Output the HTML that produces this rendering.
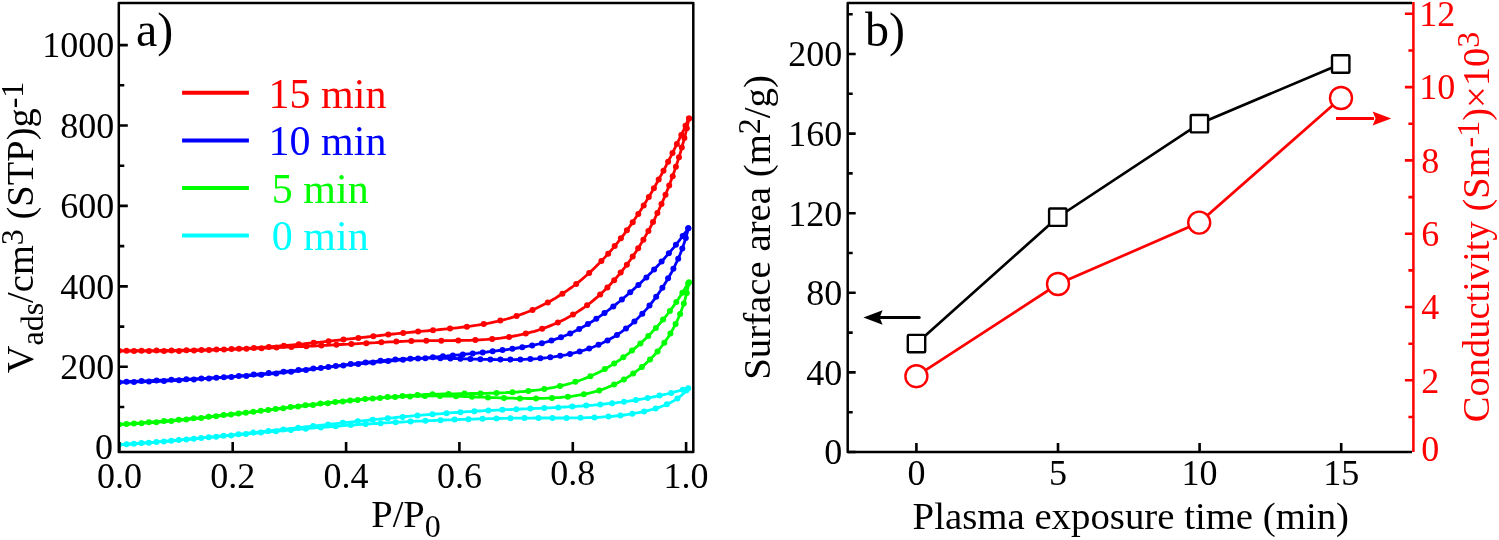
<!DOCTYPE html>
<html><head><meta charset="utf-8"><style>
html,body{margin:0;padding:0;background:#fff;}
svg{display:block;font-family:"Liberation Serif",serif;will-change:transform;}
</style></head><body>
<svg width="1499" height="540" viewBox="0 0 1499 540">
<rect width="1499" height="540" fill="#fff"/>
<defs><clipPath id="ca"><rect x="119" y="3" width="574" height="449"/></clipPath></defs>
<g clip-path="url(#ca)">
<path d="M119.0,444.8 L121.9,444.6 L124.7,444.4 L127.6,444.2 L130.5,444.0 L133.3,443.8 L136.2,443.6 L139.0,443.4 L141.9,443.2 L144.8,443.0 L147.6,442.8 L150.5,442.5 L153.3,442.3 L156.2,442.1 L159.1,441.8 L161.9,441.6 L164.8,441.4 L167.6,441.1 L170.5,440.9 L173.3,440.6 L176.2,440.4 L179.1,440.1 L181.9,439.8 L184.8,439.6 L187.6,439.3 L190.5,439.0 L193.3,438.8 L196.2,438.5 L199.0,438.2 L201.9,437.9 L204.8,437.7 L207.6,437.4 L210.5,437.1 L213.3,436.8 L216.2,436.5 L219.0,436.2 L221.9,435.9 L224.7,435.6 L227.6,435.4 L230.4,435.1 L233.3,434.8 L236.1,434.5 L239.0,434.2 L241.8,433.9 L244.7,433.6 L247.5,433.2 L250.4,432.9 L253.2,432.6 L256.1,432.3 L258.9,432.0 L261.8,431.7 L264.6,431.4 L267.5,431.1 L270.3,430.8 L273.2,430.5 L276.0,430.2 L278.9,429.8 L281.7,429.5 L284.6,429.2 L287.4,428.9 L290.3,428.6 L293.1,428.3 L296.0,428.0 L298.8,427.6 L301.7,427.3 L304.5,427.0 L307.4,426.7 L310.2,426.4 L313.1,426.1 L315.9,425.8 L318.8,425.4 L321.6,425.1 L324.5,424.8 L327.3,424.5 L330.2,424.2 L333.0,423.9 L335.9,423.6 L338.7,423.3 L341.6,423.0 L344.4,422.7 L347.3,422.4 L350.1,422.1 L353.0,421.8 L355.8,421.5 L358.7,421.2 L361.5,420.9 L364.4,420.6 L367.2,420.3 L370.1,420.0 L372.9,419.7 L375.8,419.4 L378.7,419.2 L381.5,418.9 L384.4,418.6 L387.2,418.3 L390.1,418.0 L392.9,417.8 L395.8,417.5 L398.6,417.2 L401.5,417.0 L404.3,416.7 L407.2,416.4 L410.0,416.2 L412.9,415.9 L415.8,415.7 L418.6,415.4 L421.5,415.2 L424.3,414.9 L427.2,414.7 L430.0,414.5 L432.9,414.2 L435.8,414.0 L438.6,413.8 L441.5,413.6 L444.3,413.3 L447.2,413.1 L450.1,412.9 L452.9,412.7 L455.8,412.5 L458.6,412.3 L461.5,412.1 L464.4,411.9 L467.2,411.7 L470.1,411.6 L473.0,411.4 L475.8,411.2 L478.7,411.0 L481.5,410.9 L484.4,410.7 L487.3,410.6 L490.1,410.4 L493.0,410.3 L495.9,410.1 L498.7,410.0 L501.6,409.8 L504.5,409.7 L507.3,409.6 L510.2,409.5 L513.1,409.3 L516.0,409.2 L518.8,409.1 L521.7,409.0 L524.6,408.9 L527.4,408.8 L530.3,408.6 L533.2,408.5 L536.0,408.4 L538.9,408.3 L541.8,408.1 L544.6,408.0 L547.5,407.9 L550.4,407.8 L553.2,407.6 L556.1,407.5 L559.0,407.3 L561.8,407.2 L564.7,407.0 L567.6,406.9 L570.4,406.7 L573.3,406.5 L576.1,406.3 L579.0,406.1 L581.8,406.0 L584.7,405.7 L587.6,405.5 L590.4,405.3 L593.3,405.1 L596.1,404.8 L598.9,404.6 L601.8,404.3 L604.6,404.0 L607.5,403.7 L610.3,403.4 L613.2,403.1 L616.0,402.8 L618.8,402.4 L621.7,402.1 L624.5,401.7 L627.3,401.3 L630.1,400.9 L633.0,400.5 L635.8,400.0 L638.6,399.6 L641.4,399.1 L644.2,398.6 L647.1,398.1 L649.9,397.6 L652.7,397.0 L655.5,396.5 L658.3,395.9 L661.1,395.3 L663.9,394.6 L666.7,394.0 L669.5,393.3 L672.2,392.6 L675.0,391.9 L677.8,391.2 L680.6,390.4 L683.4,389.6 L686.1,388.8" fill="none" stroke="#00FFFF" stroke-width="2.8" stroke-linejoin="round" stroke-linecap="round"/>
<g fill="#00FFFF"><circle cx="119.0" cy="444.8" r="3.0"/><circle cx="134.0" cy="443.8" r="3.0"/><circle cx="148.9" cy="442.7" r="3.0"/><circle cx="163.9" cy="441.4" r="3.0"/><circle cx="178.8" cy="440.1" r="3.0"/><circle cx="193.8" cy="438.7" r="3.0"/><circle cx="208.7" cy="437.3" r="3.0"/><circle cx="223.6" cy="435.8" r="3.0"/><circle cx="238.5" cy="434.2" r="3.0"/><circle cx="253.4" cy="432.6" r="3.0"/><circle cx="268.4" cy="431.0" r="3.0"/><circle cx="283.3" cy="429.4" r="3.0"/><circle cx="298.2" cy="427.7" r="3.0"/><circle cx="313.1" cy="426.1" r="3.0"/><circle cx="328.0" cy="424.4" r="3.0"/><circle cx="342.9" cy="422.8" r="3.0"/><circle cx="357.8" cy="421.3" r="3.0"/><circle cx="372.7" cy="419.7" r="3.0"/><circle cx="387.7" cy="418.3" r="3.0"/><circle cx="402.6" cy="416.9" r="3.0"/><circle cx="417.5" cy="415.5" r="3.0"/><circle cx="432.5" cy="414.3" r="3.0"/><circle cx="446.5" cy="413.2" r="3.0"/><circle cx="460.4" cy="412.2" r="3.0"/><circle cx="474.4" cy="411.3" r="3.0"/><circle cx="488.4" cy="410.5" r="3.0"/><circle cx="502.3" cy="409.8" r="3.0"/><circle cx="516.3" cy="409.2" r="3.0"/><circle cx="530.3" cy="408.6" r="3.0"/><circle cx="544.3" cy="408.0" r="3.0"/><circle cx="558.3" cy="407.4" r="3.0"/><circle cx="572.3" cy="406.6" r="3.0"/><circle cx="586.2" cy="405.6" r="3.0"/><circle cx="600.2" cy="404.4" r="3.0"/><circle cx="612.1" cy="403.2" r="3.0"/><circle cx="624.0" cy="401.7" r="3.0"/><circle cx="635.9" cy="400.0" r="3.0"/><circle cx="647.7" cy="398.0" r="3.0"/><circle cx="659.5" cy="395.6" r="3.0"/><circle cx="671.2" cy="392.9" r="3.0"/><circle cx="682.8" cy="389.8" r="3.0"/><circle cx="688.2" cy="388.2" r="3.0"/></g>
<path d="M119.0,444.8 L121.9,444.6 L124.8,444.4 L127.6,444.2 L130.5,444.0 L133.4,443.7 L136.3,443.5 L139.2,443.3 L142.0,443.1 L144.9,442.9 L147.8,442.6 L150.7,442.4 L153.6,442.2 L156.4,441.9 L159.3,441.7 L162.2,441.5 L165.1,441.2 L168.0,441.0 L170.8,440.7 L173.7,440.5 L176.6,440.2 L179.5,440.0 L182.4,439.7 L185.3,439.5 L188.1,439.2 L191.0,439.0 L193.9,438.7 L196.8,438.5 L199.7,438.2 L202.5,437.9 L205.4,437.7 L208.3,437.4 L211.2,437.2 L214.1,436.9 L217.0,436.6 L219.8,436.4 L222.7,436.1 L225.6,435.9 L228.5,435.6 L231.4,435.3 L234.3,435.1 L237.1,434.8 L240.0,434.5 L242.9,434.3 L245.8,434.0 L248.7,433.7 L251.6,433.5 L254.4,433.2 L257.3,433.0 L260.2,432.7 L263.1,432.4 L266.0,432.2 L268.9,431.9 L271.7,431.7 L274.6,431.4 L277.5,431.1 L280.4,430.9 L283.3,430.6 L286.2,430.4 L289.0,430.1 L291.9,429.9 L294.8,429.6 L297.7,429.4 L300.6,429.1 L303.5,428.9 L306.4,428.6 L309.2,428.4 L312.1,428.2 L315.0,427.9 L317.9,427.7 L320.8,427.4 L323.7,427.2 L326.5,427.0 L329.4,426.8 L332.3,426.5 L335.2,426.3 L338.1,426.1 L341.0,425.9 L343.8,425.6 L346.7,425.4 L349.6,425.2 L352.5,425.0 L355.4,424.8 L358.3,424.6 L361.1,424.4 L364.0,424.2 L366.9,424.0 L369.8,423.8 L372.7,423.7 L375.6,423.5 L378.4,423.3 L381.3,423.1 L384.2,422.9 L387.1,422.8 L390.0,422.6 L392.8,422.4 L395.7,422.3 L398.6,422.1 L401.5,422.0 L404.4,421.8 L407.3,421.7 L410.1,421.5 L413.0,421.4 L415.9,421.2 L418.8,421.1 L421.7,421.0 L424.6,420.8 L427.5,420.7 L430.3,420.6 L433.2,420.5 L436.1,420.3 L439.0,420.2 L441.9,420.1 L444.8,420.0 L447.7,419.9 L450.5,419.8 L453.4,419.7 L456.3,419.6 L459.2,419.5 L462.1,419.4 L465.0,419.3 L467.9,419.2 L470.8,419.1 L473.6,419.1 L476.5,419.0 L479.4,418.9 L482.3,418.8 L485.2,418.8 L488.1,418.7 L491.0,418.6 L493.9,418.6 L496.8,418.5 L499.7,418.5 L502.6,418.4 L505.5,418.4 L508.4,418.3 L511.3,418.3 L514.1,418.2 L517.0,418.2 L519.9,418.2 L522.8,418.1 L525.7,418.1 L528.6,418.1 L531.5,418.1 L534.4,418.0 L537.3,418.0 L540.2,418.0 L543.1,418.0 L546.1,418.0 L549.0,418.0 L551.9,418.0 L554.8,418.0 L557.7,418.0 L560.6,418.0 L563.5,418.0 L566.4,418.0 L569.3,417.9 L572.2,417.9 L575.1,417.9 L578.0,417.9 L580.9,417.8 L583.8,417.8 L586.7,417.7 L589.6,417.6 L592.5,417.5 L595.4,417.4 L598.3,417.3 L601.2,417.1 L604.1,416.9 L606.9,416.7 L609.8,416.5 L612.7,416.3 L615.5,416.0 L618.4,415.7 L621.3,415.4 L624.1,415.0 L627.0,414.6 L629.8,414.2 L632.6,413.7 L635.5,413.2 L638.3,412.7 L641.1,412.1 L643.9,411.5 L646.7,410.8 L649.5,410.1 L652.3,409.4 L655.1,408.6 L657.9,407.7 L660.6,406.8 L663.3,405.8 L666.0,404.7 L668.6,403.5 L671.1,402.3 L673.6,400.9 L676.0,399.4 L678.3,397.8 L680.6,396.0 L682.8,394.2 L684.8,392.1 L686.8,389.9" fill="none" stroke="#00FFFF" stroke-width="2.8" stroke-linejoin="round" stroke-linecap="round"/>
<g fill="#00FFFF"><circle cx="126.5" cy="444.3" r="3.0"/><circle cx="141.4" cy="443.1" r="3.0"/><circle cx="156.4" cy="441.9" r="3.0"/><circle cx="171.3" cy="440.7" r="3.0"/><circle cx="186.3" cy="439.4" r="3.0"/><circle cx="201.2" cy="438.1" r="3.0"/><circle cx="216.2" cy="436.7" r="3.0"/><circle cx="231.1" cy="435.4" r="3.0"/><circle cx="246.0" cy="434.0" r="3.0"/><circle cx="261.0" cy="432.6" r="3.0"/><circle cx="275.9" cy="431.3" r="3.0"/><circle cx="290.9" cy="430.0" r="3.0"/><circle cx="305.8" cy="428.7" r="3.0"/><circle cx="320.8" cy="427.4" r="3.0"/><circle cx="335.7" cy="426.3" r="3.0"/><circle cx="350.7" cy="425.1" r="3.0"/><circle cx="365.6" cy="424.1" r="3.0"/><circle cx="380.6" cy="423.2" r="3.0"/><circle cx="395.6" cy="422.3" r="3.0"/><circle cx="410.6" cy="421.5" r="3.0"/><circle cx="425.5" cy="420.8" r="3.0"/><circle cx="440.5" cy="420.2" r="3.0"/><circle cx="454.5" cy="419.6" r="3.0"/><circle cx="468.5" cy="419.2" r="3.0"/><circle cx="482.5" cy="418.8" r="3.0"/><circle cx="496.5" cy="418.5" r="3.0"/><circle cx="510.5" cy="418.3" r="3.0"/><circle cx="524.5" cy="418.1" r="3.0"/><circle cx="538.5" cy="418.0" r="3.0"/><circle cx="552.5" cy="418.0" r="3.0"/><circle cx="566.5" cy="418.0" r="3.0"/><circle cx="580.5" cy="417.8" r="3.0"/><circle cx="594.5" cy="417.4" r="3.0"/><circle cx="608.5" cy="416.6" r="3.0"/><circle cx="620.4" cy="415.5" r="3.0"/><circle cx="632.3" cy="413.8" r="3.0"/><circle cx="644.1" cy="411.5" r="3.0"/><circle cx="655.7" cy="408.4" r="3.0"/><circle cx="666.9" cy="404.3" r="3.0"/><circle cx="677.4" cy="398.5" r="3.0"/><circle cx="686.3" cy="390.5" r="3.0"/></g>
<path d="M119.0,424.4 L122.0,424.2 L125.1,424.0 L128.1,423.8 L131.2,423.6 L134.2,423.4 L137.3,423.2 L140.3,423.0 L143.4,422.7 L146.4,422.5 L149.5,422.3 L152.6,422.0 L155.6,421.8 L158.7,421.5 L161.7,421.3 L164.8,421.0 L167.9,420.7 L170.9,420.4 L174.0,420.2 L177.0,419.9 L180.1,419.6 L183.2,419.3 L186.2,419.0 L189.3,418.7 L192.4,418.4 L195.4,418.1 L198.5,417.8 L201.6,417.5 L204.6,417.2 L207.7,416.8 L210.8,416.5 L213.9,416.2 L216.9,415.9 L220.0,415.5 L223.1,415.2 L226.1,414.9 L229.2,414.5 L232.3,414.2 L235.3,413.8 L238.4,413.5 L241.5,413.1 L244.6,412.8 L247.6,412.4 L250.7,412.1 L253.8,411.7 L256.8,411.4 L259.9,411.0 L263.0,410.7 L266.0,410.3 L269.1,410.0 L272.2,409.6 L275.2,409.3 L278.3,408.9 L281.3,408.5 L284.4,408.2 L287.5,407.8 L290.5,407.5 L293.6,407.1 L296.6,406.8 L299.7,406.4 L302.7,406.1 L305.8,405.7 L308.8,405.4 L311.9,405.0 L314.9,404.7 L318.0,404.3 L321.0,404.0 L324.1,403.6 L327.1,403.3 L330.2,402.9 L333.2,402.6 L336.2,402.3 L339.3,401.9 L342.3,401.6 L345.3,401.3 L348.4,400.9 L351.4,400.6 L354.4,400.3 L357.5,400.0 L360.5,399.7 L363.5,399.4 L366.5,399.1 L369.6,398.8 L372.6,398.5 L375.6,398.2 L378.7,397.9 L381.7,397.6 L384.7,397.4 L387.8,397.1 L390.8,396.9 L393.8,396.6 L396.9,396.4 L399.9,396.2 L403.0,395.9 L406.0,395.7 L409.1,395.5 L412.1,395.3 L415.2,395.2 L418.2,395.0 L421.3,394.8 L424.4,394.7 L427.4,394.5 L430.5,394.4 L433.6,394.3 L436.7,394.2 L439.8,394.1 L442.9,394.0 L446.0,393.9 L449.1,393.9 L452.2,393.8 L455.3,393.8 L458.5,393.7 L461.6,393.7 L464.7,393.6 L467.8,393.6 L471.0,393.5 L474.1,393.5 L477.2,393.5 L480.3,393.4 L483.5,393.4 L486.6,393.3 L489.7,393.2 L492.8,393.1 L496.0,393.1 L499.1,392.9 L502.2,392.8 L505.3,392.7 L508.4,392.5 L511.5,392.4 L514.6,392.2 L517.7,392.0 L520.7,391.7 L523.8,391.5 L526.9,391.2 L529.9,390.9 L533.0,390.5 L536.0,390.2 L539.1,389.8 L542.1,389.3 L545.1,388.9 L548.1,388.4 L551.1,387.8 L554.0,387.3 L557.0,386.7 L560.0,386.0 L562.9,385.3 L565.8,384.6 L568.7,383.8 L571.6,383.0 L574.5,382.1 L577.4,381.2 L580.2,380.2 L583.0,379.2 L585.8,378.1 L588.6,377.0 L591.4,375.8 L594.2,374.5 L596.9,373.2 L599.6,371.9 L602.3,370.5 L605.0,369.0 L607.7,367.5 L610.3,365.9 L612.9,364.3 L615.5,362.7 L618.1,361.0 L620.6,359.3 L623.1,357.5 L625.6,355.6 L628.1,353.8 L630.5,351.9 L632.9,349.9 L635.3,347.9 L637.7,345.9 L640.0,343.8 L642.3,341.7 L644.6,339.6 L646.8,337.4 L649.0,335.2 L651.2,333.0 L653.3,330.8 L655.4,328.5 L657.5,326.2 L659.5,323.8 L661.5,321.5 L663.5,319.1 L665.5,316.7 L667.4,314.3 L669.2,311.8 L671.1,309.3 L672.9,306.9 L674.7,304.4 L676.4,301.8 L678.2,299.3 L679.8,296.8 L681.5,294.2 L683.1,291.7 L684.7,289.1 L686.3,286.5 L687.9,283.9" fill="none" stroke="#00FF00" stroke-width="2.8" stroke-linejoin="round" stroke-linecap="round"/>
<g fill="#00FF00"><circle cx="119.0" cy="424.4" r="3.0"/><circle cx="134.0" cy="423.4" r="3.0"/><circle cx="148.9" cy="422.3" r="3.0"/><circle cx="163.9" cy="421.1" r="3.0"/><circle cx="178.8" cy="419.7" r="3.0"/><circle cx="193.7" cy="418.3" r="3.0"/><circle cx="208.7" cy="416.7" r="3.0"/><circle cx="223.6" cy="415.1" r="3.0"/><circle cx="238.5" cy="413.5" r="3.0"/><circle cx="253.4" cy="411.8" r="3.0"/><circle cx="268.3" cy="410.1" r="3.0"/><circle cx="283.2" cy="408.3" r="3.0"/><circle cx="298.1" cy="406.6" r="3.0"/><circle cx="313.0" cy="404.9" r="3.0"/><circle cx="327.9" cy="403.2" r="3.0"/><circle cx="342.8" cy="401.5" r="3.0"/><circle cx="357.7" cy="400.0" r="3.0"/><circle cx="372.7" cy="398.5" r="3.0"/><circle cx="387.6" cy="397.1" r="3.0"/><circle cx="402.5" cy="396.0" r="3.0"/><circle cx="417.5" cy="395.0" r="3.0"/><circle cx="432.5" cy="394.3" r="3.0"/><circle cx="448.5" cy="393.9" r="3.0"/><circle cx="464.5" cy="393.6" r="3.0"/><circle cx="480.5" cy="393.4" r="3.0"/><circle cx="496.5" cy="393.0" r="3.0"/><circle cx="512.5" cy="392.3" r="3.0"/><circle cx="528.4" cy="391.0" r="3.0"/><circle cx="544.3" cy="389.0" r="3.0"/><circle cx="560.0" cy="386.0" r="3.0"/><circle cx="575.4" cy="381.8" r="3.0"/><circle cx="590.4" cy="376.2" r="3.0"/><circle cx="604.8" cy="369.1" r="3.0"/><circle cx="614.2" cy="363.5" r="3.0"/><circle cx="623.3" cy="357.3" r="3.0"/><circle cx="632.0" cy="350.6" r="3.0"/><circle cx="640.4" cy="343.5" r="3.0"/><circle cx="648.3" cy="335.9" r="3.0"/><circle cx="655.9" cy="327.9" r="3.0"/><circle cx="663.1" cy="319.6" r="3.0"/><circle cx="669.9" cy="310.9" r="3.0"/><circle cx="676.3" cy="302.0" r="3.0"/><circle cx="682.4" cy="292.8" r="3.0"/><circle cx="688.1" cy="283.5" r="3.0"/></g>
<path d="M119.0,424.4 L122.1,424.3 L125.3,424.1 L128.4,424.0 L131.6,423.9 L134.7,423.7 L137.9,423.5 L141.0,423.3 L144.1,423.1 L147.3,422.9 L150.4,422.7 L153.6,422.5 L156.7,422.2 L159.9,422.0 L163.0,421.7 L166.2,421.5 L169.3,421.2 L172.4,420.9 L175.6,420.6 L178.7,420.3 L181.9,420.0 L185.0,419.7 L188.2,419.4 L191.3,419.1 L194.4,418.7 L197.6,418.4 L200.7,418.1 L203.9,417.7 L207.0,417.4 L210.2,417.0 L213.3,416.6 L216.4,416.3 L219.6,415.9 L222.7,415.5 L225.9,415.2 L229.0,414.8 L232.2,414.4 L235.3,414.0 L238.4,413.6 L241.6,413.2 L244.7,412.8 L247.9,412.4 L251.0,412.0 L254.2,411.7 L257.3,411.3 L260.5,410.9 L263.6,410.5 L266.7,410.1 L269.9,409.7 L273.0,409.3 L276.2,408.9 L279.3,408.5 L282.5,408.1 L285.6,407.7 L288.7,407.3 L291.9,406.9 L295.0,406.5 L298.2,406.1 L301.3,405.7 L304.5,405.4 L307.6,405.0 L310.7,404.6 L313.9,404.3 L317.0,403.9 L320.2,403.5 L323.3,403.2 L326.5,402.8 L329.6,402.5 L332.7,402.1 L335.9,401.8 L339.0,401.5 L342.2,401.2 L345.3,400.9 L348.5,400.6 L351.6,400.3 L354.7,400.0 L357.9,399.7 L361.0,399.4 L364.2,399.1 L367.3,398.9 L370.5,398.6 L373.6,398.4 L376.7,398.2 L379.9,397.9 L383.0,397.7 L386.2,397.5 L389.3,397.3 L392.4,397.2 L395.6,397.0 L398.7,396.8 L401.9,396.7 L405.0,396.6 L408.2,396.4 L411.3,396.3 L414.4,396.2 L417.6,396.1 L420.7,396.1 L423.9,396.0 L427.0,396.0 L430.2,395.9 L433.3,395.9 L436.4,395.9 L439.6,395.9 L442.7,396.0 L445.9,396.0 L449.0,396.1 L452.2,396.1 L455.3,396.2 L458.4,396.3 L461.6,396.4 L464.7,396.5 L467.9,396.6 L471.0,396.7 L474.2,396.8 L477.3,397.0 L480.5,397.1 L483.6,397.2 L486.8,397.3 L490.0,397.5 L493.1,397.6 L496.3,397.7 L499.5,397.8 L502.6,397.9 L505.8,398.0 L509.0,398.1 L512.2,398.2 L515.3,398.3 L518.5,398.3 L521.7,398.4 L524.9,398.4 L528.1,398.5 L531.3,398.5 L534.5,398.5 L537.7,398.4 L540.9,398.4 L544.1,398.3 L547.3,398.2 L550.5,398.1 L553.7,397.9 L556.9,397.7 L560.1,397.5 L563.3,397.2 L566.5,396.9 L569.6,396.6 L572.7,396.2 L575.9,395.7 L579.0,395.2 L582.1,394.7 L585.2,394.1 L588.2,393.4 L591.3,392.7 L594.3,391.9 L597.3,391.0 L600.2,390.1 L603.2,389.1 L606.1,388.0 L609.0,386.8 L611.9,385.6 L614.7,384.3 L617.5,383.0 L620.2,381.5 L623.0,380.0 L625.7,378.4 L628.3,376.8 L630.9,375.1 L633.5,373.3 L636.0,371.5 L638.5,369.6 L641.0,367.6 L643.4,365.6 L645.7,363.6 L648.0,361.4 L650.3,359.2 L652.5,357.0 L654.6,354.7 L656.7,352.4 L658.8,350.0 L660.7,347.5 L662.7,345.0 L664.5,342.5 L666.3,339.9 L668.1,337.3 L669.8,334.6 L671.4,331.9 L672.9,329.1 L674.4,326.3 L675.9,323.5 L677.2,320.6 L678.5,317.7 L679.8,314.8 L680.9,311.8 L682.0,308.8 L683.1,305.8 L684.1,302.8 L685.0,299.7 L685.8,296.7 L686.6,293.6 L687.3,290.5 L688.0,287.4 L688.6,284.3" fill="none" stroke="#00FF00" stroke-width="2.8" stroke-linejoin="round" stroke-linecap="round"/>
<g fill="#00FF00"><circle cx="126.5" cy="424.1" r="3.0"/><circle cx="141.5" cy="423.3" r="3.0"/><circle cx="156.4" cy="422.3" r="3.0"/><circle cx="171.4" cy="421.0" r="3.0"/><circle cx="186.3" cy="419.6" r="3.0"/><circle cx="201.2" cy="418.0" r="3.0"/><circle cx="216.1" cy="416.3" r="3.0"/><circle cx="231.0" cy="414.5" r="3.0"/><circle cx="245.9" cy="412.7" r="3.0"/><circle cx="260.8" cy="410.8" r="3.0"/><circle cx="275.7" cy="408.9" r="3.0"/><circle cx="290.6" cy="407.1" r="3.0"/><circle cx="305.5" cy="405.2" r="3.0"/><circle cx="320.4" cy="403.5" r="3.0"/><circle cx="335.3" cy="401.9" r="3.0"/><circle cx="350.2" cy="400.4" r="3.0"/><circle cx="365.1" cy="399.1" r="3.0"/><circle cx="380.1" cy="397.9" r="3.0"/><circle cx="395.1" cy="397.0" r="3.0"/><circle cx="410.0" cy="396.4" r="3.0"/><circle cx="425.0" cy="396.0" r="3.0"/><circle cx="440.0" cy="395.9" r="3.0"/><circle cx="456.0" cy="396.2" r="3.0"/><circle cx="472.0" cy="396.7" r="3.0"/><circle cx="488.0" cy="397.4" r="3.0"/><circle cx="504.0" cy="398.0" r="3.0"/><circle cx="520.0" cy="398.4" r="3.0"/><circle cx="536.0" cy="398.5" r="3.0"/><circle cx="552.0" cy="398.0" r="3.0"/><circle cx="567.9" cy="396.8" r="3.0"/><circle cx="583.8" cy="394.3" r="3.0"/><circle cx="599.2" cy="390.4" r="3.0"/><circle cx="614.1" cy="384.6" r="3.0"/><circle cx="623.9" cy="379.5" r="3.0"/><circle cx="633.2" cy="373.6" r="3.0"/><circle cx="641.9" cy="366.9" r="3.0"/><circle cx="650.0" cy="359.5" r="3.0"/><circle cx="657.5" cy="351.4" r="3.0"/><circle cx="664.3" cy="342.8" r="3.0"/><circle cx="670.4" cy="333.6" r="3.0"/><circle cx="675.6" cy="323.9" r="3.0"/><circle cx="680.1" cy="313.9" r="3.0"/><circle cx="683.8" cy="303.5" r="3.0"/><circle cx="686.8" cy="293.0" r="3.0"/><circle cx="689.0" cy="282.2" r="3.0"/></g>
<path d="M119.0,382.2 L122.1,382.2 L125.2,382.1 L128.2,382.1 L131.3,382.1 L134.4,382.0 L137.5,381.9 L140.6,381.9 L143.6,381.8 L146.7,381.7 L149.8,381.6 L152.9,381.5 L155.9,381.4 L159.0,381.3 L162.1,381.1 L165.2,381.0 L168.2,380.9 L171.3,380.7 L174.4,380.5 L177.5,380.4 L180.5,380.2 L183.6,380.0 L186.7,379.9 L189.7,379.7 L192.8,379.5 L195.9,379.3 L199.0,379.1 L202.0,378.9 L205.1,378.6 L208.2,378.4 L211.2,378.2 L214.3,377.9 L217.4,377.7 L220.5,377.5 L223.5,377.2 L226.6,377.0 L229.7,376.7 L232.7,376.4 L235.8,376.2 L238.9,375.9 L241.9,375.6 L245.0,375.4 L248.1,375.1 L251.1,374.8 L254.2,374.5 L257.3,374.2 L260.3,373.9 L263.4,373.6 L266.5,373.4 L269.5,373.1 L272.6,372.8 L275.7,372.4 L278.7,372.1 L281.8,371.8 L284.8,371.5 L287.9,371.2 L291.0,370.9 L294.0,370.6 L297.1,370.3 L300.2,370.0 L303.2,369.6 L306.3,369.3 L309.4,369.0 L312.4,368.7 L315.5,368.4 L318.5,368.1 L321.6,367.7 L324.7,367.4 L327.7,367.1 L330.8,366.8 L333.9,366.5 L336.9,366.2 L340.0,365.8 L343.0,365.5 L346.1,365.2 L349.2,364.9 L352.2,364.6 L355.3,364.3 L358.3,364.0 L361.4,363.7 L364.5,363.4 L367.5,363.1 L370.6,362.8 L373.7,362.5 L376.7,362.2 L379.8,361.9 L382.8,361.6 L385.9,361.3 L389.0,361.0 L392.0,360.8 L395.1,360.5 L398.1,360.2 L401.2,360.0 L404.3,359.7 L407.3,359.4 L410.4,359.2 L413.4,358.9 L416.5,358.6 L419.6,358.4 L422.6,358.1 L425.7,357.8 L428.7,357.6 L431.8,357.3 L434.9,357.0 L437.9,356.8 L441.0,356.5 L444.0,356.2 L447.1,356.0 L450.2,355.7 L453.2,355.4 L456.3,355.1 L459.4,354.8 L462.4,354.5 L465.5,354.2 L468.5,353.9 L471.6,353.6 L474.7,353.3 L477.7,353.0 L480.8,352.6 L483.9,352.3 L486.9,352.0 L490.0,351.6 L493.1,351.3 L496.1,350.9 L499.2,350.5 L502.3,350.1 L505.3,349.8 L508.4,349.3 L511.5,348.9 L514.5,348.5 L517.6,348.0 L520.6,347.5 L523.7,347.0 L526.7,346.5 L529.7,345.9 L532.8,345.3 L535.8,344.7 L538.7,344.0 L541.7,343.3 L544.7,342.5 L547.6,341.7 L550.6,340.8 L553.5,339.9 L556.4,338.9 L559.3,337.9 L562.1,336.8 L564.9,335.7 L567.8,334.5 L570.5,333.2 L573.3,331.9 L576.1,330.6 L578.8,329.2 L581.5,327.7 L584.2,326.2 L586.8,324.7 L589.5,323.1 L592.1,321.5 L594.7,319.8 L597.2,318.1 L599.8,316.4 L602.3,314.6 L604.8,312.8 L607.3,311.0 L609.8,309.1 L612.2,307.2 L614.7,305.3 L617.1,303.4 L619.5,301.5 L621.9,299.5 L624.2,297.5 L626.6,295.5 L628.9,293.5 L631.2,291.5 L633.5,289.4 L635.8,287.3 L638.1,285.3 L640.3,283.2 L642.5,281.0 L644.8,278.9 L647.0,276.8 L649.1,274.6 L651.3,272.4 L653.4,270.2 L655.6,268.0 L657.7,265.8 L659.8,263.6 L661.8,261.3 L663.9,259.0 L665.9,256.7 L667.9,254.4 L669.9,252.1 L671.9,249.7 L673.9,247.3 L675.8,244.9 L677.7,242.5 L679.6,240.1 L681.5,237.7 L683.3,235.2 L685.2,232.7 L687.0,230.2" fill="none" stroke="#0000FF" stroke-width="2.8" stroke-linejoin="round" stroke-linecap="round"/>
<g fill="#0000FF"><circle cx="119.0" cy="382.2" r="3.0"/><circle cx="134.0" cy="382.0" r="3.0"/><circle cx="149.0" cy="381.6" r="3.0"/><circle cx="164.0" cy="381.1" r="3.0"/><circle cx="179.0" cy="380.3" r="3.0"/><circle cx="193.9" cy="379.4" r="3.0"/><circle cx="208.9" cy="378.4" r="3.0"/><circle cx="223.9" cy="377.2" r="3.0"/><circle cx="238.8" cy="375.9" r="3.0"/><circle cx="253.7" cy="374.6" r="3.0"/><circle cx="268.7" cy="373.1" r="3.0"/><circle cx="283.6" cy="371.7" r="3.0"/><circle cx="298.5" cy="370.1" r="3.0"/><circle cx="313.4" cy="368.6" r="3.0"/><circle cx="328.4" cy="367.0" r="3.0"/><circle cx="343.3" cy="365.5" r="3.0"/><circle cx="358.2" cy="364.0" r="3.0"/><circle cx="373.1" cy="362.5" r="3.0"/><circle cx="388.1" cy="361.1" r="3.0"/><circle cx="403.0" cy="359.8" r="3.0"/><circle cx="418.0" cy="358.5" r="3.0"/><circle cx="432.9" cy="357.2" r="3.0"/><circle cx="442.9" cy="356.3" r="3.0"/><circle cx="452.8" cy="355.4" r="3.0"/><circle cx="462.8" cy="354.5" r="3.0"/><circle cx="472.7" cy="353.5" r="3.0"/><circle cx="482.7" cy="352.4" r="3.0"/><circle cx="492.6" cy="351.3" r="3.0"/><circle cx="502.5" cy="350.1" r="3.0"/><circle cx="512.4" cy="348.8" r="3.0"/><circle cx="522.3" cy="347.3" r="3.0"/><circle cx="532.2" cy="345.4" r="3.0"/><circle cx="541.9" cy="343.2" r="3.0"/><circle cx="551.5" cy="340.5" r="3.0"/><circle cx="561.0" cy="337.2" r="3.0"/><circle cx="570.2" cy="333.4" r="3.0"/><circle cx="579.2" cy="329.0" r="3.0"/><circle cx="587.9" cy="324.1" r="3.0"/><circle cx="596.3" cy="318.7" r="3.0"/><circle cx="604.5" cy="313.0" r="3.0"/><circle cx="613.3" cy="306.4" r="3.0"/><circle cx="621.9" cy="299.5" r="3.0"/><circle cx="630.2" cy="292.3" r="3.0"/><circle cx="638.4" cy="284.9" r="3.0"/><circle cx="646.4" cy="277.4" r="3.0"/><circle cx="654.1" cy="269.5" r="3.0"/><circle cx="661.6" cy="261.5" r="3.0"/><circle cx="668.9" cy="253.3" r="3.0"/><circle cx="675.9" cy="244.8" r="3.0"/><circle cx="682.7" cy="236.1" r="3.0"/><circle cx="688.3" cy="228.3" r="3.0"/></g>
<path d="M119.0,382.2 L122.2,382.0 L125.4,381.9 L128.5,381.7 L131.7,381.5 L134.9,381.4 L138.1,381.2 L141.3,381.1 L144.4,380.9 L147.6,380.8 L150.8,380.6 L154.0,380.5 L157.1,380.4 L160.3,380.2 L163.5,380.1 L166.7,380.0 L169.9,379.8 L173.0,379.7 L176.2,379.6 L179.4,379.5 L182.6,379.3 L185.7,379.2 L188.9,379.1 L192.1,378.9 L195.2,378.8 L198.4,378.6 L201.6,378.5 L204.8,378.3 L207.9,378.2 L211.1,378.0 L214.3,377.9 L217.4,377.7 L220.6,377.5 L223.8,377.4 L226.9,377.2 L230.1,377.0 L233.3,376.8 L236.5,376.6 L239.6,376.4 L242.8,376.2 L246.0,376.0 L249.1,375.7 L252.3,375.5 L255.5,375.2 L258.6,375.0 L261.8,374.7 L265.0,374.4 L268.1,374.1 L271.3,373.8 L274.5,373.5 L277.6,373.2 L280.8,372.9 L284.0,372.5 L287.1,372.2 L290.3,371.8 L293.5,371.5 L296.6,371.1 L299.8,370.7 L302.9,370.3 L306.1,369.9 L309.3,369.5 L312.4,369.1 L315.6,368.7 L318.8,368.3 L321.9,367.8 L325.1,367.4 L328.3,367.0 L331.4,366.6 L334.6,366.2 L337.7,365.8 L340.9,365.4 L344.1,365.0 L347.2,364.6 L350.4,364.2 L353.6,363.8 L356.7,363.4 L359.9,363.0 L363.0,362.6 L366.2,362.3 L369.4,361.9 L372.5,361.6 L375.7,361.3 L378.9,361.0 L382.0,360.7 L385.2,360.4 L388.4,360.1 L391.5,359.8 L394.7,359.6 L397.8,359.4 L401.0,359.2 L404.2,359.0 L407.3,358.8 L410.5,358.7 L413.7,358.5 L416.8,358.4 L420.0,358.3 L423.2,358.3 L426.3,358.2 L429.5,358.2 L432.7,358.2 L435.8,358.2 L439.0,358.2 L442.2,358.3 L445.3,358.3 L448.5,358.4 L451.7,358.4 L454.8,358.5 L458.0,358.6 L461.2,358.7 L464.3,358.8 L467.5,358.9 L470.7,359.0 L473.9,359.1 L477.0,359.2 L480.2,359.3 L483.4,359.3 L486.6,359.4 L489.7,359.5 L492.9,359.5 L496.1,359.6 L499.3,359.6 L502.5,359.7 L505.6,359.7 L508.8,359.6 L512.0,359.6 L515.2,359.6 L518.4,359.5 L521.6,359.4 L524.8,359.3 L528.0,359.1 L531.2,359.0 L534.4,358.8 L537.6,358.6 L540.8,358.3 L543.9,358.0 L547.1,357.7 L550.3,357.3 L553.5,356.9 L556.6,356.4 L559.8,355.9 L562.9,355.4 L566.0,354.8 L569.1,354.1 L572.2,353.4 L575.3,352.7 L578.3,351.9 L581.4,351.0 L584.4,350.1 L587.4,349.1 L590.4,348.1 L593.3,347.0 L596.2,345.8 L599.1,344.5 L602.0,343.2 L604.8,341.8 L607.7,340.4 L610.4,338.8 L613.2,337.2 L615.9,335.6 L618.5,333.8 L621.2,332.1 L623.8,330.2 L626.3,328.3 L628.8,326.3 L631.3,324.3 L633.7,322.2 L636.0,320.0 L638.3,317.8 L640.5,315.6 L642.7,313.3 L644.9,310.9 L647.0,308.6 L649.0,306.1 L651.0,303.7 L653.0,301.1 L654.9,298.6 L656.8,296.0 L658.6,293.4 L660.4,290.8 L662.1,288.1 L663.8,285.4 L665.5,282.7 L667.2,280.0 L668.8,277.2 L670.3,274.5 L671.9,271.7 L673.3,268.8 L674.8,266.0 L676.1,263.2 L677.5,260.3 L678.7,257.4 L680.0,254.5 L681.2,251.5 L682.3,248.6 L683.3,245.6 L684.3,242.7 L685.3,239.7 L686.2,236.6 L687.0,233.6 L687.8,230.6" fill="none" stroke="#0000FF" stroke-width="2.8" stroke-linejoin="round" stroke-linecap="round"/>
<g fill="#0000FF"><circle cx="126.5" cy="381.8" r="3.0"/><circle cx="141.5" cy="381.1" r="3.0"/><circle cx="156.5" cy="380.4" r="3.0"/><circle cx="171.4" cy="379.8" r="3.0"/><circle cx="186.4" cy="379.2" r="3.0"/><circle cx="201.4" cy="378.5" r="3.0"/><circle cx="216.4" cy="377.8" r="3.0"/><circle cx="231.4" cy="376.9" r="3.0"/><circle cx="246.3" cy="375.9" r="3.0"/><circle cx="261.3" cy="374.8" r="3.0"/><circle cx="276.2" cy="373.4" r="3.0"/><circle cx="291.1" cy="371.7" r="3.0"/><circle cx="306.0" cy="369.9" r="3.0"/><circle cx="320.9" cy="368.0" r="3.0"/><circle cx="335.8" cy="366.0" r="3.0"/><circle cx="350.7" cy="364.1" r="3.0"/><circle cx="365.6" cy="362.4" r="3.0"/><circle cx="380.5" cy="360.8" r="3.0"/><circle cx="395.4" cy="359.5" r="3.0"/><circle cx="410.4" cy="358.7" r="3.0"/><circle cx="425.4" cy="358.2" r="3.0"/><circle cx="440.4" cy="358.2" r="3.0"/><circle cx="450.4" cy="358.4" r="3.0"/><circle cx="460.4" cy="358.7" r="3.0"/><circle cx="470.4" cy="359.0" r="3.0"/><circle cx="480.4" cy="359.3" r="3.0"/><circle cx="490.4" cy="359.5" r="3.0"/><circle cx="500.4" cy="359.6" r="3.0"/><circle cx="510.4" cy="359.6" r="3.0"/><circle cx="520.4" cy="359.4" r="3.0"/><circle cx="530.4" cy="359.0" r="3.0"/><circle cx="540.3" cy="358.3" r="3.0"/><circle cx="550.3" cy="357.3" r="3.0"/><circle cx="560.2" cy="355.8" r="3.0"/><circle cx="570.0" cy="353.9" r="3.0"/><circle cx="579.7" cy="351.5" r="3.0"/><circle cx="589.2" cy="348.5" r="3.0"/><circle cx="598.5" cy="344.8" r="3.0"/><circle cx="607.5" cy="340.4" r="3.0"/><circle cx="617.0" cy="334.9" r="3.0"/><circle cx="626.0" cy="328.5" r="3.0"/><circle cx="634.4" cy="321.5" r="3.0"/><circle cx="642.3" cy="313.8" r="3.0"/><circle cx="649.5" cy="305.5" r="3.0"/><circle cx="656.2" cy="296.8" r="3.0"/><circle cx="662.4" cy="287.7" r="3.0"/><circle cx="668.1" cy="278.3" r="3.0"/><circle cx="673.4" cy="268.7" r="3.0"/><circle cx="678.2" cy="258.7" r="3.0"/><circle cx="682.3" cy="248.5" r="3.0"/><circle cx="685.8" cy="238.1" r="3.0"/><circle cx="688.3" cy="228.3" r="3.0"/></g>
<path d="M119.0,350.8 L122.3,350.9 L125.7,350.9 L129.1,351.0 L132.4,351.0 L135.8,351.0 L139.1,351.1 L142.5,351.1 L145.8,351.1 L149.2,351.1 L152.5,351.1 L155.9,351.1 L159.3,351.1 L162.6,351.1 L166.0,351.1 L169.3,351.0 L172.7,351.0 L176.1,350.9 L179.4,350.9 L182.8,350.8 L186.2,350.8 L189.5,350.7 L192.9,350.6 L196.2,350.5 L199.6,350.4 L203.0,350.3 L206.3,350.2 L209.7,350.1 L213.0,350.0 L216.4,349.9 L219.8,349.7 L223.1,349.6 L226.5,349.4 L229.8,349.3 L233.2,349.1 L236.5,348.9 L239.9,348.8 L243.3,348.6 L246.6,348.4 L250.0,348.2 L253.3,348.0 L256.7,347.7 L260.0,347.5 L263.4,347.3 L266.7,347.0 L270.1,346.8 L273.4,346.5 L276.7,346.3 L280.1,346.0 L283.4,345.7 L286.8,345.4 L290.1,345.1 L293.4,344.8 L296.8,344.5 L300.1,344.2 L303.4,343.9 L306.7,343.5 L310.1,343.2 L313.4,342.9 L316.7,342.5 L320.0,342.2 L323.4,341.8 L326.7,341.4 L330.0,341.1 L333.3,340.7 L336.6,340.3 L340.0,340.0 L343.3,339.6 L346.6,339.2 L349.9,338.8 L353.3,338.5 L356.6,338.1 L359.9,337.7 L363.2,337.3 L366.6,337.0 L369.9,336.6 L373.2,336.2 L376.6,335.8 L379.9,335.5 L383.2,335.1 L386.6,334.7 L389.9,334.4 L393.3,334.0 L396.6,333.7 L400.0,333.3 L403.3,333.0 L406.7,332.6 L410.0,332.3 L413.4,332.0 L416.8,331.7 L420.1,331.4 L423.5,331.1 L426.9,330.8 L430.3,330.5 L433.6,330.2 L437.0,329.9 L440.4,329.5 L443.8,329.2 L447.1,328.9 L450.5,328.6 L453.9,328.2 L457.2,327.8 L460.6,327.4 L463.9,327.0 L467.3,326.6 L470.6,326.2 L474.0,325.7 L477.3,325.2 L480.6,324.6 L483.9,324.1 L487.2,323.5 L490.5,322.8 L493.7,322.1 L497.0,321.4 L500.2,320.6 L503.5,319.8 L506.7,319.0 L509.9,318.1 L513.1,317.1 L516.2,316.1 L519.4,315.0 L522.5,313.9 L525.6,312.7 L528.7,311.5 L531.8,310.2 L534.8,308.9 L537.8,307.5 L540.8,306.0 L543.8,304.5 L546.8,303.0 L549.7,301.4 L552.6,299.8 L555.5,298.1 L558.3,296.3 L561.2,294.5 L563.9,292.7 L566.7,290.8 L569.4,288.9 L572.2,287.0 L574.8,285.0 L577.5,282.9 L580.1,280.8 L582.6,278.7 L585.2,276.5 L587.7,274.3 L590.2,272.1 L592.6,269.8 L595.0,267.5 L597.4,265.1 L599.8,262.7 L602.1,260.3 L604.4,257.9 L606.7,255.4 L608.9,252.9 L611.1,250.3 L613.3,247.8 L615.4,245.2 L617.6,242.6 L619.7,239.9 L621.7,237.3 L623.8,234.6 L625.8,231.9 L627.8,229.1 L629.8,226.4 L631.7,223.6 L633.6,220.8 L635.5,218.0 L637.4,215.2 L639.2,212.4 L641.1,209.5 L642.9,206.7 L644.6,203.8 L646.4,200.9 L648.1,198.1 L649.9,195.2 L651.6,192.3 L653.2,189.3 L654.9,186.4 L656.5,183.5 L658.1,180.6 L659.7,177.6 L661.3,174.7 L662.9,171.7 L664.5,168.8 L666.0,165.8 L667.5,162.8 L669.0,159.8 L670.6,156.9 L672.0,153.9 L673.5,150.9 L675.0,147.9 L676.5,144.9 L677.9,141.9 L679.4,138.9 L680.8,135.8 L682.2,132.8 L683.7,129.8 L685.1,126.8 L686.5,123.7 L687.9,120.7" fill="none" stroke="#FF0000" stroke-width="2.8" stroke-linejoin="round" stroke-linecap="round"/>
<g fill="#FF0000"><circle cx="119.0" cy="350.8" r="3.0"/><circle cx="134.0" cy="351.0" r="3.0"/><circle cx="149.0" cy="351.1" r="3.0"/><circle cx="164.0" cy="351.1" r="3.0"/><circle cx="179.0" cy="350.9" r="3.0"/><circle cx="194.0" cy="350.6" r="3.0"/><circle cx="209.0" cy="350.1" r="3.0"/><circle cx="224.0" cy="349.5" r="3.0"/><circle cx="239.0" cy="348.8" r="3.0"/><circle cx="253.9" cy="347.9" r="3.0"/><circle cx="268.9" cy="346.9" r="3.0"/><circle cx="283.8" cy="345.7" r="3.0"/><circle cx="298.8" cy="344.3" r="3.0"/><circle cx="313.7" cy="342.8" r="3.0"/><circle cx="328.6" cy="341.2" r="3.0"/><circle cx="343.5" cy="339.6" r="3.0"/><circle cx="358.4" cy="337.9" r="3.0"/><circle cx="373.3" cy="336.2" r="3.0"/><circle cx="388.3" cy="334.6" r="3.0"/><circle cx="403.2" cy="333.0" r="3.0"/><circle cx="418.1" cy="331.6" r="3.0"/><circle cx="433.0" cy="330.2" r="3.0"/><circle cx="450.0" cy="328.6" r="3.0"/><circle cx="466.9" cy="326.7" r="3.0"/><circle cx="483.7" cy="324.1" r="3.0"/><circle cx="500.3" cy="320.6" r="3.0"/><circle cx="516.6" cy="316.0" r="3.0"/><circle cx="532.5" cy="309.9" r="3.0"/><circle cx="547.8" cy="302.4" r="3.0"/><circle cx="562.4" cy="293.7" r="3.0"/><circle cx="576.2" cy="283.9" r="3.0"/><circle cx="589.2" cy="272.9" r="3.0"/><circle cx="601.4" cy="261.1" r="3.0"/><circle cx="608.2" cy="253.7" r="3.0"/><circle cx="614.7" cy="246.1" r="3.0"/><circle cx="620.9" cy="238.3" r="3.0"/><circle cx="626.9" cy="230.3" r="3.0"/><circle cx="632.7" cy="222.2" r="3.0"/><circle cx="638.3" cy="213.9" r="3.0"/><circle cx="643.7" cy="205.4" r="3.0"/><circle cx="648.8" cy="196.9" r="3.0"/><circle cx="653.9" cy="188.2" r="3.0"/><circle cx="658.7" cy="179.5" r="3.0"/><circle cx="663.5" cy="170.7" r="3.0"/><circle cx="668.1" cy="161.8" r="3.0"/><circle cx="672.5" cy="152.9" r="3.0"/><circle cx="676.9" cy="143.9" r="3.0"/><circle cx="681.3" cy="134.9" r="3.0"/><circle cx="685.5" cy="125.8" r="3.0"/><circle cx="689.0" cy="118.4" r="3.0"/></g>
<path d="M119.0,350.8 L122.5,350.8 L125.9,350.8 L129.4,350.8 L132.9,350.7 L136.3,350.7 L139.8,350.7 L143.3,350.7 L146.7,350.7 L150.2,350.6 L153.7,350.6 L157.2,350.6 L160.6,350.5 L164.1,350.5 L167.6,350.4 L171.0,350.4 L174.5,350.3 L178.0,350.3 L181.4,350.2 L184.9,350.2 L188.4,350.1 L191.9,350.1 L195.3,350.0 L198.8,349.9 L202.3,349.9 L205.7,349.8 L209.2,349.7 L212.7,349.6 L216.1,349.5 L219.6,349.5 L223.1,349.4 L226.6,349.3 L230.0,349.2 L233.5,349.1 L237.0,349.0 L240.4,348.9 L243.9,348.8 L247.4,348.7 L250.8,348.5 L254.3,348.4 L257.8,348.3 L261.2,348.2 L264.7,348.1 L268.2,347.9 L271.7,347.8 L275.1,347.7 L278.6,347.5 L282.1,347.4 L285.5,347.2 L289.0,347.1 L292.4,346.9 L295.9,346.8 L299.4,346.6 L302.8,346.5 L306.3,346.3 L309.8,346.1 L313.2,346.0 L316.7,345.8 L320.2,345.6 L323.6,345.4 L327.1,345.3 L330.5,345.1 L334.0,344.9 L337.5,344.7 L340.9,344.5 L344.4,344.3 L347.8,344.2 L351.3,344.0 L354.7,343.8 L358.2,343.6 L361.7,343.4 L365.1,343.2 L368.6,343.0 L372.0,342.8 L375.5,342.7 L378.9,342.5 L382.4,342.3 L385.8,342.1 L389.3,341.9 L392.7,341.8 L396.2,341.6 L399.6,341.5 L403.1,341.3 L406.6,341.2 L410.0,341.1 L413.5,341.0 L417.0,340.9 L420.5,340.8 L423.9,340.8 L427.4,340.7 L430.9,340.7 L434.4,340.7 L437.9,340.7 L441.4,340.7 L444.9,340.6 L448.4,340.6 L451.9,340.6 L455.4,340.5 L458.9,340.5 L462.4,340.4 L465.9,340.4 L469.4,340.3 L472.9,340.1 L476.4,340.0 L479.8,339.8 L483.3,339.6 L486.8,339.4 L490.2,339.1 L493.7,338.8 L497.1,338.5 L500.6,338.1 L504.0,337.6 L507.4,337.1 L510.8,336.6 L514.2,336.0 L517.6,335.4 L521.0,334.7 L524.4,333.9 L527.7,333.1 L531.0,332.2 L534.4,331.3 L537.7,330.3 L540.9,329.2 L544.2,328.1 L547.4,326.9 L550.6,325.6 L553.8,324.3 L557.0,322.9 L560.1,321.5 L563.2,319.9 L566.3,318.4 L569.3,316.7 L572.3,315.0 L575.3,313.3 L578.2,311.4 L581.1,309.5 L583.9,307.6 L586.7,305.6 L589.5,303.5 L592.2,301.3 L594.8,299.1 L597.5,296.9 L600.0,294.6 L602.6,292.2 L605.1,289.8 L607.6,287.3 L610.0,284.8 L612.3,282.3 L614.7,279.7 L617.0,277.0 L619.2,274.4 L621.5,271.7 L623.6,268.9 L625.8,266.1 L627.9,263.3 L629.9,260.5 L631.9,257.7 L633.9,254.8 L635.8,251.9 L637.7,249.0 L639.6,246.0 L641.4,243.1 L643.2,240.1 L644.9,237.1 L646.6,234.1 L648.3,231.0 L650.0,228.0 L651.6,224.9 L653.1,221.9 L654.7,218.8 L656.2,215.7 L657.7,212.5 L659.1,209.4 L660.6,206.2 L662.0,203.1 L663.3,199.9 L664.7,196.7 L666.0,193.5 L667.3,190.3 L668.6,187.1 L669.8,183.9 L671.0,180.6 L672.2,177.4 L673.4,174.1 L674.5,170.9 L675.6,167.6 L676.7,164.3 L677.8,161.0 L678.8,157.7 L679.9,154.4 L680.8,151.1 L681.8,147.8 L682.7,144.4 L683.6,141.1 L684.5,137.7 L685.4,134.4 L686.2,131.0 L687.0,127.7 L687.7,124.3 L688.5,120.9" fill="none" stroke="#FF0000" stroke-width="2.8" stroke-linejoin="round" stroke-linecap="round"/>
<g fill="#FF0000"><circle cx="126.5" cy="350.8" r="3.0"/><circle cx="141.5" cy="350.7" r="3.0"/><circle cx="156.5" cy="350.6" r="3.0"/><circle cx="171.5" cy="350.4" r="3.0"/><circle cx="186.5" cy="350.2" r="3.0"/><circle cx="201.5" cy="349.9" r="3.0"/><circle cx="216.5" cy="349.5" r="3.0"/><circle cx="231.5" cy="349.1" r="3.0"/><circle cx="246.5" cy="348.7" r="3.0"/><circle cx="261.5" cy="348.2" r="3.0"/><circle cx="276.5" cy="347.6" r="3.0"/><circle cx="291.4" cy="347.0" r="3.0"/><circle cx="306.4" cy="346.3" r="3.0"/><circle cx="321.4" cy="345.5" r="3.0"/><circle cx="336.4" cy="344.8" r="3.0"/><circle cx="351.4" cy="344.0" r="3.0"/><circle cx="366.3" cy="343.2" r="3.0"/><circle cx="381.3" cy="342.3" r="3.0"/><circle cx="396.3" cy="341.6" r="3.0"/><circle cx="411.3" cy="341.0" r="3.0"/><circle cx="426.3" cy="340.8" r="3.0"/><circle cx="441.3" cy="340.7" r="3.0"/><circle cx="458.3" cy="340.5" r="3.0"/><circle cx="475.3" cy="340.0" r="3.0"/><circle cx="492.2" cy="338.9" r="3.0"/><circle cx="509.1" cy="336.9" r="3.0"/><circle cx="525.8" cy="333.6" r="3.0"/><circle cx="542.1" cy="328.8" r="3.0"/><circle cx="557.9" cy="322.5" r="3.0"/><circle cx="573.0" cy="314.6" r="3.0"/><circle cx="587.1" cy="305.3" r="3.0"/><circle cx="600.2" cy="294.4" r="3.0"/><circle cx="607.4" cy="287.5" r="3.0"/><circle cx="614.2" cy="280.2" r="3.0"/><circle cx="620.7" cy="272.6" r="3.0"/><circle cx="626.9" cy="264.7" r="3.0"/><circle cx="632.7" cy="256.6" r="3.0"/><circle cx="638.2" cy="248.2" r="3.0"/><circle cx="643.4" cy="239.7" r="3.0"/><circle cx="648.4" cy="231.0" r="3.0"/><circle cx="653.0" cy="222.1" r="3.0"/><circle cx="657.4" cy="213.1" r="3.0"/><circle cx="661.5" cy="204.0" r="3.0"/><circle cx="665.5" cy="194.8" r="3.0"/><circle cx="669.2" cy="185.6" r="3.0"/><circle cx="672.7" cy="176.2" r="3.0"/><circle cx="675.9" cy="166.7" r="3.0"/><circle cx="679.0" cy="157.2" r="3.0"/><circle cx="681.8" cy="147.6" r="3.0"/><circle cx="684.4" cy="138.0" r="3.0"/><circle cx="686.8" cy="128.3" r="3.0"/><circle cx="689.0" cy="118.5" r="3.0"/></g>
</g>
<path d="M118.8,452 L118.8,3 L693.3,3 L693.3,452 Z" fill="none" stroke="#000" stroke-width="2.5" stroke-linejoin="round"/>
<path d="M118.8,366.8 h9 M118.8,286.4 h9 M118.8,205.9 h9 M118.8,125.5 h9 M118.8,45.1 h9 M118.8,407.0 h5.5 M118.8,326.6 h5.5 M118.8,246.1 h5.5 M118.8,165.7 h5.5 M118.8,85.3 h5.5 M119.4,452 v-10 M232.7,452 v-10 M346.1,452 v-10 M459.4,452 v-10 M572.8,452 v-10 M686.1,452 v-10" stroke="#000" stroke-width="2.6" fill="none"/>
<g font-size="36"><text x="113" y="459.4" text-anchor="end">0</text><text x="114.2" y="379.0" text-anchor="end">200</text><text x="114.2" y="298.6" text-anchor="end">400</text><text x="114.2" y="218.1" text-anchor="end">600</text><text x="114.2" y="137.7" text-anchor="end">800</text><text x="114.2" y="57.3" text-anchor="end">1000</text><text x="119.4" y="488.3" text-anchor="middle">0.0</text><text x="232.7" y="488.3" text-anchor="middle">0.2</text><text x="346.1" y="488.3" text-anchor="middle">0.4</text><text x="459.4" y="488.3" text-anchor="middle">0.6</text><text x="572.8" y="485.3" text-anchor="middle">0.8</text><text x="686.1" y="488.3" text-anchor="middle">1.0</text></g>
<path d="M182.1,92.8 H248.9" stroke="#FF0000" stroke-width="4"/>
<text x="268.6" y="107.6" font-size="42" fill="#FF0000">15 min</text>
<path d="M182.1,140.4 H248.9" stroke="#0000FF" stroke-width="4"/>
<text x="268.6" y="154.8" font-size="42" fill="#0000FF">10 min</text>
<path d="M182.1,188.0 H248.9" stroke="#00FF00" stroke-width="4"/>
<text x="271.8" y="202.6" font-size="42" fill="#00FF00">5 min</text>
<path d="M182.1,235.4 H248.9" stroke="#00FFFF" stroke-width="4"/>
<text x="271.8" y="249.8" font-size="42" fill="#00FFFF">0 min</text>
<path d="M1412,3 L847.7,3 L847.7,452 L1412,452" fill="none" stroke="#000" stroke-width="2.5" stroke-linejoin="round"/>
<path d="M1413.4,2 L1413.4,452" fill="none" stroke="#FF0000" stroke-width="2.5"/>
<path d="M847.7,452.0 h8 M847.7,372.4 h8 M847.7,292.8 h8 M847.7,213.2 h8 M847.7,133.6 h8 M847.7,54.0 h8 M847.7,412.2 h5 M847.7,332.6 h5 M847.7,253.0 h5 M847.7,173.4 h5 M847.7,93.8 h5 M847.7,14.2 h5 M916.4,452 v-9 M1058.0,452 v-9 M1199.6,452 v-9 M1341.2,452 v-9" stroke="#000" stroke-width="2.6" fill="none"/>
<path d="M1413.4,380.3 h-8.5 M1413.4,307.0 h-8.5 M1413.4,233.7 h-8.5 M1413.4,160.4 h-8.5 M1413.4,87.1 h-8.5 M1413.4,13.8 h-8.5 M1413.4,417.0 h-5 M1413.4,343.7 h-5 M1413.4,270.4 h-5 M1413.4,197.1 h-5 M1413.4,123.8 h-5 M1413.4,50.5 h-5" stroke="#FF0000" stroke-width="2.6" fill="none"/>
<g font-size="36"><text x="842.3" y="464.3" text-anchor="end">0</text><text x="842.3" y="384.7" text-anchor="end">40</text><text x="842.3" y="305.1" text-anchor="end">80</text><text x="842.3" y="225.5" text-anchor="end">120</text><text x="842.3" y="145.9" text-anchor="end">160</text><text x="842.3" y="66.3" text-anchor="end">200</text><text x="916.4" y="485.4" text-anchor="middle">0</text><text x="1058.0" y="485.4" text-anchor="middle">5</text><text x="1199.6" y="485.4" text-anchor="middle">10</text><text x="1341.2" y="485.4" text-anchor="middle">15</text></g>
<g font-size="36" fill="#FF0000"><text x="1421.3" y="460.8">0</text><text x="1421.3" y="392.6">2</text><text x="1421.3" y="319.3">4</text><text x="1421.3" y="246.0">6</text><text x="1421.3" y="172.7">8</text><text x="1419.3" y="99.4">10</text><text x="1419.3" y="26.1">12</text></g>
<path d="M916.5,343.6 L1057.8,217.2 L1199.4,123.7 L1340.7,64.0" fill="none" stroke="#000" stroke-width="2.7"/>
<path d="M916.4,376.2 L1058.0,284.0 L1199.2,222.6 L1341.0,98.0" fill="none" stroke="#FF0000" stroke-width="2.7"/>
<rect x="907.8" y="334.9" width="17.4" height="17.4" rx="1" fill="#fff" stroke="#000" stroke-width="2.4"/>
<rect x="1049.1" y="208.5" width="17.4" height="17.4" rx="1" fill="#fff" stroke="#000" stroke-width="2.4"/>
<rect x="1190.7" y="115.0" width="17.4" height="17.4" rx="1" fill="#fff" stroke="#000" stroke-width="2.4"/>
<rect x="1332.0" y="55.3" width="17.4" height="17.4" rx="1" fill="#fff" stroke="#000" stroke-width="2.4"/>
<circle cx="916.4" cy="376.2" r="11" fill="#fff" stroke="#FF0000" stroke-width="2.4"/>
<circle cx="1058.0" cy="284.0" r="11" fill="#fff" stroke="#FF0000" stroke-width="2.4"/>
<circle cx="1199.2" cy="222.6" r="11" fill="#fff" stroke="#FF0000" stroke-width="2.4"/>
<circle cx="1341.0" cy="98.0" r="11" fill="#fff" stroke="#FF0000" stroke-width="2.4"/>
<path d="M880,317.5 H919.2" stroke="#000" stroke-width="3" stroke-linecap="round"/>
<path d="M863.4,317.5 L882.6,310.2 L879.6,317.5 L882.6,324.8 Z" fill="#000"/>
<path d="M1336,118.5 H1374" stroke="#FF0000" stroke-width="3"/>
<path d="M1391.3,118.5 L1372.6,111.4 L1375.6,118.5 L1372.6,125.6 Z" fill="#FF0000"/>

<text x="136" y="45.6" font-size="48">a)</text>
<text x="865" y="46" font-size="48">b)</text>
<text x="406" y="526.7" font-size="38.5" text-anchor="middle">P/P<tspan font-size="32" dy="10">0</tspan></text>
<text x="1130.8" y="529" font-size="38.8" text-anchor="middle">Plasma exposure time (min)</text>
<text transform="translate(32.5,227.5) rotate(-90)" font-size="38.5" text-anchor="middle">V<tspan font-size="32" dy="10">ads</tspan><tspan dy="-10">/cm</tspan><tspan font-size="32" dy="-10">3</tspan><tspan dy="10"> (STP)g</tspan><tspan font-size="32" dy="-10">-1</tspan></text>
<text transform="translate(770,227.4) rotate(-90)" font-size="38.8" text-anchor="middle">Surface area (m<tspan font-size="32" dy="-10">2</tspan><tspan dy="10">/g)</tspan></text>
<text transform="translate(1489,227) rotate(-90)" font-size="38.5" text-anchor="middle" fill="#FF0000">Conductivity (Sm<tspan font-size="32" dy="-10">-1</tspan><tspan dy="10">)×10</tspan><tspan font-size="32" dy="-10">3</tspan></text>

</svg>
</body></html>
